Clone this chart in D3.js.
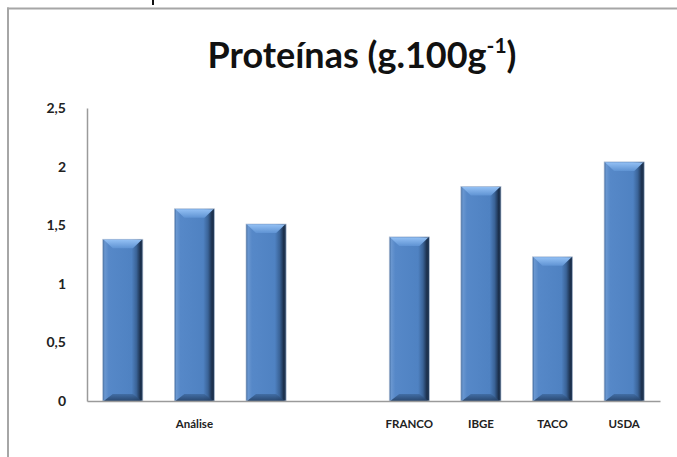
<!DOCTYPE html>
<html>
<head>
<meta charset="utf-8">
<script src="https://cdn.jsdelivr.net/npm/d3@7"></script>
<style>
  html, body { margin: 0; padding: 0; background: #fff; overflow: hidden; }
  svg { display: block; }
</style>
</head>
<body>
<svg id="chart" width="677" height="457"></svg>
<script>
// Protein content (g per 100 g): three sample analyses, then reference tables
const slots = ["A1", "A2", "A3", "gap", "FRANCO", "IBGE", "TACO", "USDA"];
const tickLabels = ["", "Análise", "", "", "FRANCO", "IBGE", "TACO", "USDA"];
const values = [1.38, 1.64, 1.51, null, 1.40, 1.83, 1.23, 2.04];
const yTicks = [0, 0.5, 1, 1.5, 2, 2.5];

const W = 677, H = 457;
const svg = d3.select("#chart");
const defs = svg.append("defs");

// chart area frame: top and left edges (the rest runs off the page)
const frame = svg.append("g").attr("stroke", "#a6a6a6").attr("stroke-width", 2);
frame.append("line").attr("x1", 7).attr("x2", W).attr("y1", 8.5).attr("y2", 8.5);
frame.append("line").attr("x1", 8).attr("x2", 8).attr("y1", 7.5).attr("y2", H);

// small mark above the frame
svg.append("line")
  .attr("x1", 153).attr("x2", 153).attr("y1", 0).attr("y2", 5)
  .attr("stroke", "#111").attr("stroke-width", 2);

const margin = { left: 87, right: 17, top: 108, bottom: 56 };
const x = d3.scaleBand().domain(slots)
  .range([margin.left, W - margin.right])
  .paddingInner(0.44).paddingOuter(0.22);
const y = d3.scaleLinear().domain([0, 2.5]).range([H - margin.bottom, margin.top]);

// bar shading: light left edge, dark right edge
const gh = defs.append("linearGradient").attr("id", "barH")
  .attr("x1", "0").attr("x2", "1").attr("y1", "0").attr("y2", "0");
[[0, "#3a6498"], [0.05, "#6a97d0"], [0.15, "#5688c8"], [0.72, "#4f82c2"],
 [0.84, "#3a6397"], [0.94, "#1b2f4b"], [1, "#27405f"]]
  .forEach(([o, c]) => gh.append("stop").attr("offset", o).attr("stop-color", c));
const gTop = defs.append("linearGradient").attr("id", "barTop")
  .attr("x1", "0").attr("x2", "0").attr("y1", "0").attr("y2", "1");
[[0, "#93c0f4"], [1, "#5f93d3"]]
  .forEach(([o, c]) => gTop.append("stop").attr("offset", o).attr("stop-color", c));
const gBot = defs.append("linearGradient").attr("id", "barBot")
  .attr("x1", "0").attr("x2", "0").attr("y1", "0").attr("y2", "1");
[[0, "#3f6aa0"], [1, "#223d61"]]
  .forEach(([o, c]) => gBot.append("stop").attr("offset", o).attr("stop-color", c));

const data = slots.map((s, i) => ({ slot: s, value: values[i] })).filter(d => d.value != null);
const bw = x.bandwidth();
const bev = 9;

const bars = svg.append("g").selectAll("g").data(data).join("g")
  .attr("transform", d => `translate(${x(d.slot)},${y(d.value)})`);
bars.append("rect")
  .attr("width", bw).attr("height", d => y(0) - y(d.value))
  .attr("fill", "url(#barH)").attr("stroke", "#b4c2d6").attr("stroke-width", 0.7);
bars.append("path")
  .attr("d", `M1,0.5 L${bw - 1},0.5 L${bw - 1 - bev},${bev} L${1 + bev},${bev} Z`)
  .attr("fill", "url(#barTop)");
bars.append("path")
  .attr("d", d => {
    const h = y(0) - y(d.value);
    return `M1,${h} L${bw - 1},${h} L${bw - 1 - bev},${h - bev + 2} L${1 + bev},${h - bev + 2} Z`;
  })
  .attr("fill", "url(#barBot)").attr("opacity", 0.85);

// axes
const yAxis = svg.append("g").attr("transform", `translate(${margin.left},0)`)
  .call(d3.axisLeft(y).tickValues(yTicks).tickSize(0).tickPadding(21)
    .tickFormat(d => String(d).replace(".", ",")));
yAxis.select(".domain").attr("stroke", "#9a9a9a").attr("stroke-width", 1.5);
yAxis.selectAll("text")
  .attr("font-family", "Lato, 'Open Sans', sans-serif").attr("font-weight", "bold")
  .attr("font-size", 14).attr("fill", "#222");

const xAxis = svg.append("g").attr("transform", `translate(0,${y(0)})`)
  .call(d3.axisBottom(x).tickSize(0).tickPadding(19)
    .tickFormat((d, i) => tickLabels[i]));
xAxis.select(".domain").attr("stroke", "#9a9a9a").attr("stroke-width", 1.5);
xAxis.selectAll("text")
  .attr("font-family", "Lato, 'Open Sans', sans-serif").attr("font-weight", "bold")
  .attr("font-size", 11.5).attr("fill", "#222");

// title
const title = svg.append("text")
  .attr("x", 362).attr("y", 68).attr("text-anchor", "middle")
  .attr("font-family", "Lato, 'Open Sans', sans-serif").attr("font-weight", "bold")
  .attr("font-size", 36).attr("fill", "#111");
title.append("tspan").text("Proteínas (g.100g");
title.append("tspan").attr("font-size", 21).attr("dy", -15).text("-1");
title.append("tspan").attr("dy", 15).text(")");
</script>
</body>
</html>
